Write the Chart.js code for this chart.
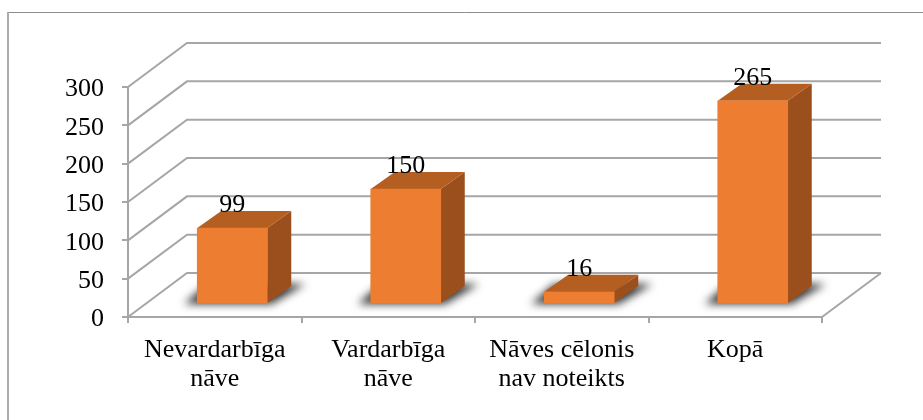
<!DOCTYPE html>
<html>
<head>
<meta charset="utf-8">
<style>
  html, body { margin: 0; padding: 0; background: #fff; }
  #wrap { width: 923px; height: 420px; position: relative; }
</style>
<script src="https://cdn.jsdelivr.net/npm/chart.js@4"></script>
</head>
<body>
<div id="wrap"><canvas id="chart" width="923" height="420"></canvas></div>
<script>
const categories = [['Nevardarbīga', 'nāve'], ['Vardarbīga', 'nāve'], ['Nāves cēlonis', 'nav noteikts'], ['Kopā']];
const values = [99, 150, 16, 265];

const FONT = '"Liberation Serif", "Times New Roman", serif';
const GRID = '#a6a6a6';
// depth of the fake 3D box
const wallDx = 59, wallDy = 44;
const barShiftX = 17.5, barShiftY = 13;
const barDx = 24, barDy = 17;

const fake3d = {
  id: 'fake3d',
  beforeDraw(chart) {
    const ctx = chart.ctx;
    const y = chart.scales.y, x = chart.scales.x;
    ctx.save();
    // chart frame, only top and left show in the crop
    ctx.strokeStyle = '#8c8c8c';
    ctx.lineWidth = 1;
    ctx.beginPath();
    ctx.moveTo(8, 12.5);
    ctx.lineTo(923, 12.5);
    ctx.stroke();
    ctx.strokeStyle = '#acacac';
    ctx.lineWidth = 2;
    ctx.beginPath();
    ctx.moveTo(8, 12);
    ctx.lineTo(8, 420);
    ctx.stroke();

    ctx.strokeStyle = GRID;
    ctx.lineWidth = 2;
    y.ticks.forEach(t => {
      const py = y.getPixelForValue(t.value);
      ctx.beginPath();
      ctx.moveTo(x.left, py);
      ctx.lineTo(x.left + wallDx, py - wallDy);
      ctx.lineTo(x.right + wallDx, py - wallDy);
      ctx.stroke();
    });
    // floor right edge
    ctx.beginPath();
    ctx.moveTo(x.right, y.bottom);
    ctx.lineTo(x.right + wallDx, y.bottom - wallDy);
    ctx.stroke();
    ctx.restore();
  },
  beforeDatasetDraw(chart) {
    const ctx = chart.ctx;
    const bars = chart.getDatasetMeta(0).data;
    ctx.save();
    ctx.translate(barShiftX, -barShiftY);
    // shadows on the floor
    bars.forEach(b => {
      const x0 = b.x - b.width / 2, x1 = b.x + b.width / 2, base = b.base;
      ctx.save();
      ctx.filter = 'blur(4px)';
      ctx.fillStyle = '#333333';
      ctx.beginPath();
      ctx.moveTo(x0 - 13, base + 1);
      ctx.lineTo(x1 + 4, base + 1);
      ctx.lineTo(x1 + 38, base - 19);
      ctx.lineTo(x0 + 10, base - 19);
      ctx.closePath();
      ctx.fill();
      ctx.restore();
    });
    // side and top faces
    bars.forEach(b => {
      const x0 = b.x - b.width / 2, x1 = b.x + b.width / 2, top = b.y, base = b.base;
      ctx.fillStyle = '#9a4f1c';
      ctx.beginPath();
      ctx.moveTo(x1, top);
      ctx.lineTo(x1 + barDx, top - barDy);
      ctx.lineTo(x1 + barDx, base - barDy);
      ctx.lineTo(x1, base);
      ctx.closePath();
      ctx.fill();
      ctx.fillStyle = '#b55e22';
      ctx.beginPath();
      ctx.moveTo(x0, top);
      ctx.lineTo(x0 + barDx, top - barDy);
      ctx.lineTo(x1 + barDx, top - barDy);
      ctx.lineTo(x1, top);
      ctx.closePath();
      ctx.fill();
    });
  },
  afterDatasetDraw(chart) {
    chart.ctx.restore();
  },
  afterDatasetsDraw(chart) {
    const ctx = chart.ctx;
    ctx.save();
    ctx.fillStyle = '#000';
    ctx.font = '26px ' + FONT;
    ctx.textAlign = 'center';
    ctx.textBaseline = 'middle';
    chart.getDatasetMeta(0).data.forEach((b, i) => {
      ctx.fillText(values[i], b.x + barShiftX, b.y - barShiftY - 23);
    });
    ctx.restore();
  }
};

new Chart(document.getElementById('chart'), {
  type: 'bar',
  data: {
    labels: categories,
    datasets: [{
      data: values,
      backgroundColor: '#ed7d31',
      barThickness: 70
    }]
  },
  options: {
    responsive: false,
    animation: false,
    layout: { padding: { top: 87, right: 101, bottom: 30, left: 0 } },
    plugins: { legend: { display: false }, tooltip: { enabled: false } },
    scales: {
      x: {
        afterFit: s => { s.height = 73; },
        grid: { color: GRID, lineWidth: 2, drawOnChartArea: false, tickLength: 6 },
        border: { color: GRID, width: 2 },
        ticks: { color: '#000', font: { family: FONT, size: 26, lineHeight: 1.1 }, padding: 13, maxRotation: 0, autoSkip: false }
      },
      y: {
        min: 0,
        max: 300,
        afterFit: s => { s.width = 128; },
        grid: { color: GRID, lineWidth: 2, drawOnChartArea: false, tickLength: 6 },
        border: { color: GRID, width: 2 },
        ticks: {
          stepSize: 50,
          color: '#000',
          // blank first line with a small line height nudges the number down a little
          callback: v => ['', String(v)],
          font: { family: FONT, size: 26, lineHeight: '5px' },
          padding: 18
        }
      }
    }
  },
  plugins: [fake3d]
});
</script>
</body>
</html>
